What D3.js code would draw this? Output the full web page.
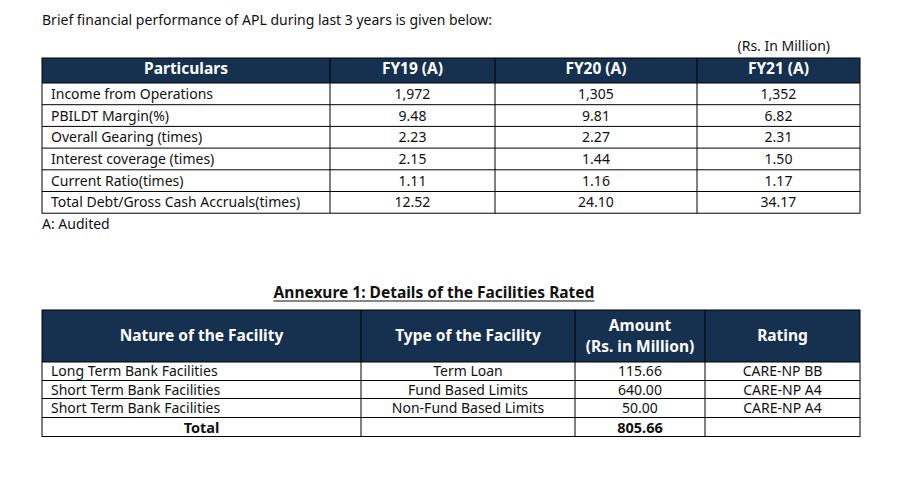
<!DOCTYPE html>
<html><head><meta charset="utf-8">
<script src="https://cdn.jsdelivr.net/npm/d3@7"></script>
<style>body{margin:0;background:#fff}text{font-family:"Noto Sans",sans-serif}</style>
</head><body><svg id="c" width="907" height="496"></svg>
<script>
const topHeaders = ["Particulars","FY19 (A)","FY20 (A)","FY21 (A)"];
const particulars = ["Income from Operations","PBILDT Margin(%)","Overall Gearing (times)","Interest coverage (times)","Current Ratio(times)","Total Debt/Gross Cash Accruals(times)"];
const fy19 = ["1,972","9.48","2.23","2.15","1.11","12.52"];
const fy20 = ["1,305","9.81","2.27","1.44","1.16","24.10"];
const fy21 = ["1,352","6.82","2.31","1.50","1.17","34.17"];
const facHeaders = [["Nature of the Facility"],["Type of the Facility"],["Amount","(Rs. in Million)"],["Rating"]];
const nature = ["Long Term Bank Facilities","Short Term Bank Facilities","Short Term Bank Facilities","Total"];
const ftype = ["Term Loan","Fund Based Limits","Non-Fund Based Limits",""];
const amount = ["115.66","640.00","50.00","805.66"];
const rating = ["CARE-NP BB","CARE-NP A4","CARE-NP A4",""];

const svg = d3.select("#c");
const navy = "#16304f";
const fs = 14, bfs = 15.5;

svg.append("text").attr("x",42).attr("y",25).attr("font-size",fs).attr("fill","#111")
  .text("Brief financial performance of APL during last 3 years is given below:");
svg.append("text").attr("x",830).attr("y",51).attr("text-anchor","end").attr("font-size",fs).attr("fill","#111")
  .text("(Rs. In Million)");

function table(colEdges, headerTop, headerBottom, rowEdges, headers, cols, opts){
  const g = svg.append("g");
  const x0 = colEdges[0], x1 = colEdges[colEdges.length-1];
  g.append("rect").attr("x",x0).attr("y",headerTop).attr("width",x1-x0).attr("height",headerBottom-headerTop).attr("fill",navy);
  headers.forEach((h,i)=>{
    const cx=(colEdges[i]+colEdges[i+1])/2;
    const lines = Array.isArray(h)?h:[h];
    const mid=(headerTop+headerBottom)/2;
    lines.forEach((l,k)=>{
      g.append("text").attr("x",cx).attr("y",mid+5+(k-(lines.length-1)/2)*21 + (opts.headerShift||0))
        .attr("text-anchor","middle").attr("font-size",bfs).attr("font-weight","bold").attr("fill","#fff").text(l);
    });
  });
  const n = cols[0].length;
  for(let r=0;r<n;r++){
    const y0=rowEdges[r], y1=rowEdges[r+1], ty=(y0+y1)/2+5;
    cols.forEach((c,i)=>{
      const left = i===0 && !(opts.boldLastRow && r===n-1);
      const bold = opts.boldLastRow && r===n-1 && (i===0||i===2);
      g.append("text").attr("x", left? colEdges[0]+9 : (colEdges[i]+colEdges[i+1])/2).attr("y",ty + (bold?0.5:0))
        .attr("text-anchor", left?"start":"middle").attr("font-size", bold?14.5:fs)
        .attr("font-weight", bold?"bold":"normal").attr("fill","#111").text(c[r]);
    });
  }
  const yb = rowEdges[rowEdges.length-1];
  g.append("rect").attr("x",x0).attr("y",headerTop).attr("width",x1-x0).attr("height",yb-headerTop)
    .attr("fill","none").attr("stroke","#000").attr("stroke-width",1);
  colEdges.slice(1,-1).forEach(x=>g.append("line").attr("x1",x).attr("x2",x).attr("y1",headerTop).attr("y2",yb).attr("stroke","#000"));
  rowEdges.slice(0,-1).forEach(y=>g.append("line").attr("x1",x0).attr("x2",x1).attr("y1",y).attr("y2",y).attr("stroke","#000"));
}

const topRows = d3.range(particulars.length+1).map(i=>83+i*21.7);
table([42,330,495,697,860],58,83,topRows,topHeaders,[particulars,fy19,fy20,fy21],{headerShift:-2});

svg.append("text").attr("x",42).attr("y",229).attr("font-size",fs).attr("fill","#111").text("A: Audited");

const title = svg.append("text").attr("x",434).attr("y",298).attr("text-anchor","middle")
  .attr("font-size",bfs).attr("font-weight","bold").attr("fill","#111").text("Annexure 1: Details of the Facilities Rated");
const bb = title.node().getBBox();
svg.append("line").attr("x1",bb.x).attr("x2",bb.x+bb.width).attr("y1",301).attr("y2",301).attr("stroke","#111").attr("stroke-width",1.2);

const botRows = [362,380.5,398.5,417.5,436.5];
table([42,361,575,705,860],310,362,botRows,facHeaders,[nature,ftype,amount,rating],{boldLastRow:true});
</script></body></html>
